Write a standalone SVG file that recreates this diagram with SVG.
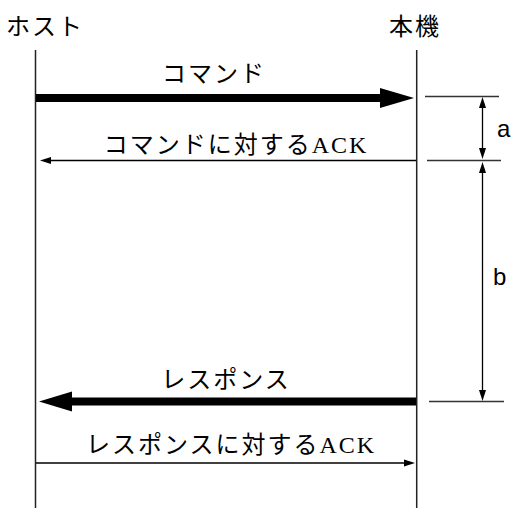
<svg xmlns="http://www.w3.org/2000/svg" width="512" height="508" viewBox="0 0 512 508">
<style>
.t{font-family:"Liberation Serif","Noto Sans CJK JP",serif;font-size:24px;fill:#000;letter-spacing:2px}
.d{font-family:"Liberation Sans",Arial,sans-serif;font-size:24px;fill:#000}
.life{stroke:#222;stroke-width:1.5;fill:none}
.thin{stroke:#000;stroke-width:1.3;fill:none}
.thick{stroke:#000;stroke-width:8;fill:none}
.dim{stroke:#333;stroke-width:1.3;fill:none}
.head{fill:#000;stroke:none}
</style>
<rect width="512" height="508" fill="#fff"/>
<g id="host">
<text class="t" x="6" y="35">ホスト</text>
<line class="life" x1="35.5" y1="50" x2="35.5" y2="508"/>
</g>
<g id="device">
<text class="t" x="389" y="35">本機</text>
<line class="life" x1="416.7" y1="50" x2="416.7" y2="508"/>
</g>
<g id="connectors">
<line class="thick" x1="36" y1="98" x2="384" y2="98"/>
<polygon class="head" points="414,98 380,88 380,108"/>
<text class="t" x="214" y="82" text-anchor="middle">コマンド</text>

<line class="thin" x1="416" y1="160.5" x2="48" y2="160.5"/>
<polygon class="head" points="40,160.5 51,157 51,164"/>
<text class="t" x="236" y="153" text-anchor="middle">コマンドに対するACK</text>

<line class="thick" x1="416" y1="401.5" x2="68" y2="401.5"/>
<polygon class="head" points="39,401.5 72,391.5 72,411.5"/>
<text class="t" x="226" y="388" text-anchor="middle">レスポンス</text>

<line class="thin" x1="36" y1="463" x2="406" y2="463"/>
<polygon class="head" points="415,463 404,459.5 404,466.5"/>
<text class="t" x="231" y="453" text-anchor="middle">レスポンスに対するACK</text>
</g>
<g id="dimensions">
<line class="dim" x1="425" y1="96.5" x2="499" y2="96.5"/>
<line class="dim" x1="427" y1="160.5" x2="501" y2="160.5"/>
<line class="dim" x1="429" y1="401.5" x2="504" y2="401.5"/>
<line class="thin" x1="482.5" y1="105" x2="482.5" y2="150"/>
<polygon class="head" points="482.5,97 479,108 486,108"/>
<polygon class="head" points="482.5,159 479,148 486,148"/>
<text class="d" x="497" y="137">a</text>
<line class="thin" x1="482.5" y1="170" x2="482.5" y2="393"/>
<polygon class="head" points="482.5,162 479,173 486,173"/>
<polygon class="head" points="482.5,401 479,390 486,390"/>
<text class="d" x="493" y="285">b</text>
</g>
</svg>
